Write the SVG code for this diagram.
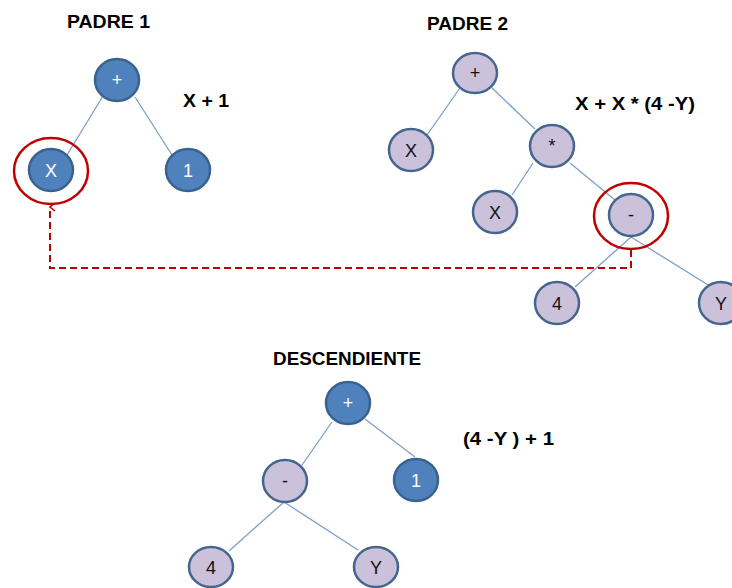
<svg xmlns="http://www.w3.org/2000/svg" width="732" height="588" viewBox="0 0 732 588">
<defs>
<style>
.edge{stroke:#7c9fcb;stroke-width:1.3;fill:none}
.blue{fill:#4f81bd;stroke:#3a628f;stroke-width:2.5}
.lav{fill:#ccc1da;stroke:#43658f;stroke-width:2.5}
.tw{font-family:"Liberation Sans",Arial,sans-serif;font-size:18px;fill:#fff;text-anchor:middle}
.tb{font-family:"Liberation Sans",Arial,sans-serif;font-size:18px;fill:#111;text-anchor:middle}
.title{font-family:"Liberation Sans",Arial,sans-serif;font-size:18.5px;font-weight:bold;fill:#000}
.ring{fill:none;stroke:#c00000;stroke-width:2.5}
.dash{fill:none;stroke:#c00000;stroke-width:2;stroke-dasharray:7,4}
</style>
<marker id="arr" viewBox="0 0 10 10" refX="5" refY="1" markerWidth="10" markerHeight="10" markerUnits="userSpaceOnUse" orient="auto-start-reverse">
<path d="M1,6 L5,1 L9,6" fill="none" stroke="#c00000" stroke-width="1.6"/>
</marker>
</defs>
<rect width="732" height="588" fill="#fff"/>
<g id="connectors">
<line class="edge" x1="103" y1="96" x2="67" y2="155"/>
<line class="edge" x1="135" y1="97" x2="172" y2="155"/>
<line class="edge" x1="460" y1="88" x2="427" y2="135"/>
<line class="edge" x1="492" y1="88" x2="535" y2="129"/>
<line class="edge" x1="533" y1="163" x2="512" y2="195"/>
<line class="edge" x1="570" y1="163" x2="615" y2="200"/>
<line class="edge" x1="631" y1="237" x2="575" y2="287"/>
<line class="edge" x1="631" y1="237" x2="713" y2="288"/>
<line class="edge" x1="332" y1="422" x2="302" y2="465"/>
<line class="edge" x1="365" y1="419" x2="415" y2="457"/>
<line class="edge" x1="284" y1="502" x2="229" y2="551"/>
<line class="edge" x1="284" y1="502" x2="358" y2="550"/>
<path class="dash" d="M631,250 L631,268 L50,268 L50,207" marker-end="url(#arr)"/>
</g>
<g id="titles">
<text class="title" x="67" y="28" textLength="83" lengthAdjust="spacingAndGlyphs">PADRE 1</text>
<text class="title" x="427" y="30" textLength="81" lengthAdjust="spacingAndGlyphs">PADRE 2</text>
<text class="title" x="273" y="365" textLength="148" lengthAdjust="spacingAndGlyphs">DESCENDIENTE</text>
<text class="title" x="183" y="107" textLength="46" lengthAdjust="spacingAndGlyphs">X + 1</text>
<text class="title" x="575" y="110" textLength="120" lengthAdjust="spacingAndGlyphs">X + X * (4 -Y)</text>
<text class="title" x="463" y="445" textLength="91" lengthAdjust="spacingAndGlyphs">(4 -Y ) + 1</text>
</g>
<g id="p1-plus"><ellipse class="blue" cx="117" cy="80" rx="22" ry="21"/><text class="tw" x="117" y="86">+</text></g>
<g id="p1-x"><ellipse class="blue" cx="51" cy="170" rx="22" ry="21"/><text class="tw" x="51" y="177">X</text></g>
<g id="p1-1"><ellipse class="blue" cx="188" cy="170" rx="22" ry="21"/><text class="tw" x="188" y="177">1</text></g>
<g id="p1-ring"><ellipse class="ring" cx="51" cy="171" rx="37" ry="33"/></g>
<g id="p2-plus"><ellipse class="lav" cx="475" cy="73" rx="22" ry="20"/><text class="tb" x="475" y="79">+</text></g>
<g id="p2-x1"><ellipse class="lav" cx="411" cy="150" rx="22" ry="21"/><text class="tb" x="411" y="157">X</text></g>
<g id="p2-mul"><ellipse class="lav" cx="552" cy="146" rx="22" ry="21"/><text class="tb" x="552" y="152">*</text></g>
<g id="p2-x2"><ellipse class="lav" cx="495" cy="212" rx="22" ry="21"/><text class="tb" x="495" y="219">X</text></g>
<g id="p2-minus"><ellipse class="lav" cx="631" cy="215" rx="22" ry="21"/><text class="tb" x="631" y="221">-</text></g>
<g id="p2-ring"><ellipse class="ring" cx="631" cy="216" rx="37" ry="33"/></g>
<g id="p2-4"><ellipse class="lav" cx="557" cy="303" rx="22" ry="21"/><text class="tb" x="557" y="310">4</text></g>
<g id="p2-y"><ellipse class="lav" cx="721" cy="303" rx="22" ry="21"/><text class="tb" x="721" y="310">Y</text></g>
<g id="d-plus"><ellipse class="blue" cx="348" cy="403" rx="22" ry="21"/><text class="tw" x="348" y="409">+</text></g>
<g id="d-minus"><ellipse class="lav" cx="285" cy="481" rx="22" ry="21"/><text class="tb" x="285" y="487">-</text></g>
<g id="d-1"><ellipse class="blue" cx="416" cy="480" rx="22" ry="21"/><text class="tw" x="416" y="487">1</text></g>
<g id="d-4"><ellipse class="lav" cx="211" cy="567" rx="22" ry="20"/><text class="tb" x="211" y="574">4</text></g>
<g id="d-y"><ellipse class="lav" cx="376" cy="567" rx="22" ry="20"/><text class="tb" x="376" y="574">Y</text></g>
</svg>
